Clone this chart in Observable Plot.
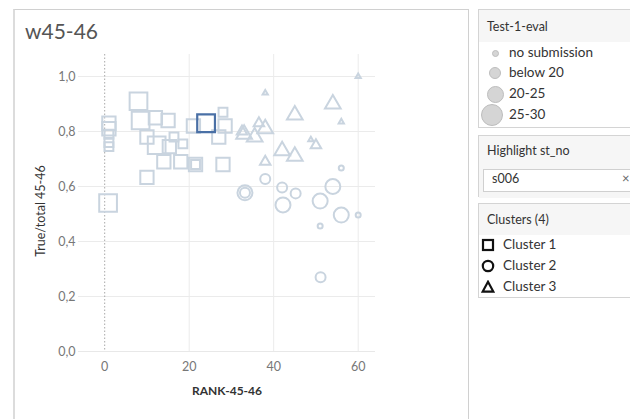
<!DOCTYPE html>
<html>
<head>
<meta charset="utf-8">
<script src="https://cdn.jsdelivr.net/npm/d3@7"></script>
<script src="https://cdn.jsdelivr.net/npm/@observablehq/plot@0.6"></script>
<style>
  html, body { margin: 0; padding: 0; background: #fff; }
  body { width: 630px; height: 419px; overflow: hidden; position: relative; font-family: Lato, "Open Sans", sans-serif; }
  .main { position: absolute; left: 13px; top: 9px; width: 456px; height: 420px; border-left: 2px solid #dcdcdc; border-top: 1px solid #d0d0d0; border-right: 1px solid #d0d0d0; box-sizing: border-box; }
  .title { position: absolute; left: 25px; top: 18px; font-size: 21px; color: #555; }
  #chart { position: absolute; left: 14px; top: 50px; }
  .panel { position: absolute; left: 478px; width: 160px; border: 1px solid #d4d4d4; box-sizing: border-box; background: #fff; }
  .phead { background: #f6f6f6; font-size: 12.5px; color: #333; padding-left: 8px; box-sizing: border-box; }
  .item { position: absolute; font-size: 13.5px; color: #333; }
</style>
</head>
<body>
<div class="main"></div>
<div class="title">w45-46</div>
<div id="chart"></div>

<div class="panel" style="top:9px;height:119px;">
  <div class="phead" style="height:32px;line-height:34px;">Test-1-eval</div>
</div>
<div id="sizeLegend"></div>

<div class="panel" style="top:135px;height:62px;">
  <div class="phead" style="height:62px;line-height:30px;">Highlight st_no</div>
</div>
<div style="position:absolute;left:483px;top:169px;width:160px;height:23px;border:1px solid #d0d0d0;background:#fff;box-sizing:border-box;"></div>
<div class="item" style="left:492px;top:171px;font-size:12.5px;">s006</div>
<div class="item" style="left:622px;top:170px;color:#666;font-size:13px;">×</div>

<div class="panel" style="top:203px;height:95px;">
  <div class="phead" style="height:31px;line-height:32px;">Clusters (4)</div>
</div>
<div id="clusterLegend"></div>

<script>
// ---- data ----
const rank = [
  0.8, 1, 1, 1, 1, 1, 8, 8.5, 12, 15, 10, 12.3, 15.3, 16.4, 18.5, 14, 18, 21.5, 21.5, 10, 21, 24, 28, 28.5, 27, 28,
  33.2, 33.2, 38, 42.2, 42, 45.2, 51, 54, 56, 56, 60, 51, 51.1,
  38, 60, 54, 56, 45, 38, 33, 36.5, 32.5, 35.5, 42, 45, 48.8, 50, 38
];
const ratio = [
  0.54, 0.83, 0.81, 0.79, 0.76, 0.745, 0.91, 0.84, 0.85, 0.84, 0.78, 0.75, 0.745, 0.78, 0.755, 0.69, 0.69, 0.68, 0.68, 0.633, 0.82, 0.83, 0.87, 0.82, 0.78, 0.68,
  0.577, 0.577, 0.627, 0.533, 0.596, 0.575, 0.547, 0.60, 0.496, 0.667, 0.496, 0.456, 0.27,
  0.94, 1.0, 0.90, 0.835, 0.86, 0.81, 0.79, 0.83, 0.80, 0.78, 0.73, 0.71, 0.77, 0.75, 0.69
];
const cluster = [
  ...Array(26).fill("Cluster 1"),
  ...Array(13).fill("Cluster 2"),
  ...Array(15).fill("Cluster 3")
];
const test1 = [
  "25-30", "20-25", "20-25", "below 20", "below 20", "below 20", "25-30", "25-30", "20-25", "20-25", "20-25", "25-30", "20-25", "below 20", "below 20", "20-25", "20-25", "20-25", "below 20", "20-25", "20-25", "25-30", "below 20", "20-25", "20-25", "20-25",
  "20-25", "below 20", "below 20", "20-25", "below 20", "below 20", "20-25", "20-25", "20-25", "no submission", "no submission", "no submission", "below 20",
  "no submission", "no submission", "20-25", "no submission", "20-25", "20-25", "20-25", "below 20", "below 20", "20-25", "20-25", "20-25", "no submission", "below 20", "below 20"
];
const stNo = rank.map((_, i) => i === 21 ? "s006" : null);
const sizeBands = ["no submission", "below 20", "20-25", "25-30"];
const clusterNames = ["Cluster 1", "Cluster 2", "Cluster 3"];
const yTicks = [0, 0.2, 0.4, 0.6, 0.8, 1.0];
const xTicks = [0, 20, 40, 60];
const highlightId = "s006";

const rows = rank.map((r, i) => ({rank: r, ratio: ratio[i], cluster: cluster[i], size: test1[i], st: stNo[i]}));
const base = rows.filter(d => d.st !== highlightId);
const hi = rows.filter(d => d.st === highlightId);

const fmt = d => d.toFixed(1).replace(".", ",");
const sizeLevel = d => sizeBands.indexOf(d.size) + 1;

const chart = Plot.plot({
  width: 456,
  height: 369,
  marginLeft: 64,
  marginRight: 95,
  marginTop: 4,
  marginBottom: 68,
  style: {background: "transparent", fontFamily: "Lato, sans-serif", fontSize: "12px"},
  x: {domain: [-6.2, 64.1], ticks: xTicks, label: null},
  y: {domain: [0, 1.08], ticks: yTicks, label: null},
  r: {type: "linear", domain: [1, 4], range: [2.5, 10]},
  symbol: {domain: clusterNames, range: ["square", "circle", "triangle2"]},
  marks: [
    Plot.gridY(yTicks, {stroke: "#ebebeb", strokeOpacity: 1}),
    Plot.gridX(xTicks.slice(1), {stroke: "#ebebeb", strokeOpacity: 1}),
    Plot.ruleY([0], {stroke: "#e8e8e8"}),
    Plot.ruleX([0], {stroke: "#a8a8a8", strokeDasharray: "1.5,2"}),
    Plot.axisX(xTicks, {tickSize: 0, tickPadding: 11, tickFormat: d => String(d), fill: "#777", fontSize: 12.5, label: null}),
    Plot.axisY(yTicks, {tickSize: 0, tickPadding: 3, tickFormat: fmt, fill: "#777", fontSize: 12.5, label: null}),
    Plot.dot(base, {x: "rank", y: "ratio", symbol: "cluster", r: sizeLevel, stroke: "#c9d4df", strokeWidth: 2, fill: "none"}),
    Plot.dot(hi, {x: "rank", y: "ratio", symbol: "cluster", r: sizeLevel, stroke: "#4a70a6", strokeWidth: 2.2, fill: "none"}),
    Plot.text(["True/total 45-46"], {frameAnchor: "left", textAnchor: "middle", rotate: -90, dx: -38, dy: 8, fill: "#333", fontSize: 12.5}),
    Plot.text(["RANK-45-46"], {frameAnchor: "bottom", dy: 43, fill: "#333", fontSize: 12, fontWeight: "bold"})
  ]
});
document.getElementById("chart").appendChild(chart);

// size legend
const sizeR = [2.5, 5, 7.5, 10];
const sizeY = [53, 73, 94, 115];
const sl = document.getElementById("sizeLegend");
sizeBands.forEach((s, i) => {
  const r = sizeR[i];
  const cx = i === 3 ? 492 : 495;
  const d = document.createElement("div");
  d.style.cssText = `position:absolute;left:${cx - r - 1}px;top:${sizeY[i] - r - 1}px;width:${2*r}px;height:${2*r}px;border-radius:50%;background:#d5d5d5;border:1px solid #bdbdbd;`;
  sl.appendChild(d);
  const t = document.createElement("div");
  t.className = "item";
  t.style.left = "509px";
  t.style.top = (sizeY[i] - 9) + "px";
  t.textContent = s;
  sl.appendChild(t);
});

// cluster legend
const cl = document.getElementById("clusterLegend");
const clY = [245, 266, 287];
const icons = [
  '<rect x="2" y="2" width="10" height="10" fill="none" stroke="#111" stroke-width="2.2"/>',
  '<circle cx="7" cy="7" r="5.2" fill="none" stroke="#111" stroke-width="2.2"/>',
  '<path d="M7 1.8 L12.3 11.6 L1.7 11.6 Z" fill="none" stroke="#111" stroke-width="2.2" stroke-linejoin="miter"/>'
];
clusterNames.forEach((c, i) => {
  const s = document.createElementNS("http://www.w3.org/2000/svg", "svg");
  s.setAttribute("width", 14); s.setAttribute("height", 14);
  s.style.cssText = `position:absolute;left:481px;top:${clY[i] - 7}px;`;
  s.innerHTML = icons[i];
  cl.appendChild(s);
  const t = document.createElement("div");
  t.className = "item";
  t.style.left = "503px";
  t.style.top = (clY[i] - 9) + "px";
  t.textContent = c;
  cl.appendChild(t);
});
</script>
</body>
</html>
